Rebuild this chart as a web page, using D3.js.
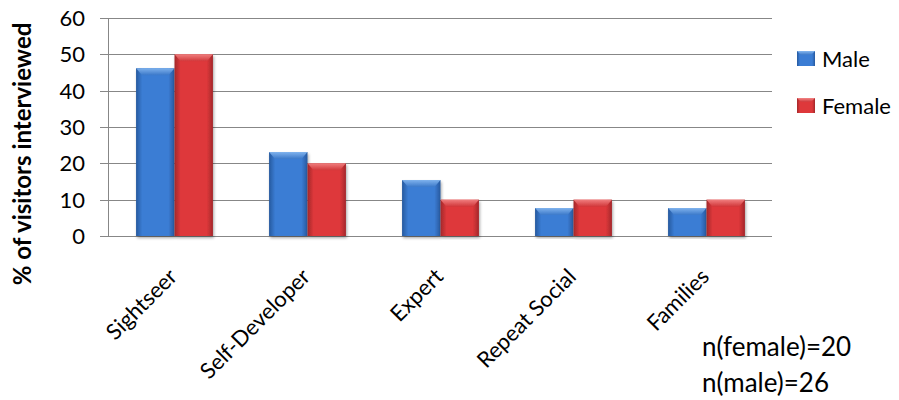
<!DOCTYPE html>
<html>
<head>
<meta charset="utf-8">
<script src="https://cdn.jsdelivr.net/npm/d3@7"></script>
<style>
  html, body { margin: 0; padding: 0; background: #fff; }
  svg { display: block; font-family: Lato, "Open Sans", sans-serif; }
</style>
</head>
<body>
<svg id="chart" width="899" height="400"></svg>
<script>
// Visitor types by gender (% of visitors interviewed)
const categories = ["Sightseer", "Self-Developer", "Expert", "Repeat Social", "Families"];
const seriesNames = ["Male", "Female"];
const maleValues = [46.2, 23.1, 15.4, 7.7, 7.7];
const femaleValues = [50, 20, 10, 10, 10];
const yTicks = [0, 10, 20, 30, 40, 50, 60];
const yTitle = "% of visitors interviewed";
const notes = ["n(female)=20", "n(male)=26"];

const seriesValues = { Male: maleValues, Female: femaleValues };

const svg = d3.select("#chart");
const plot = { left: 108, right: 773, top: 18, bottom: 236 };

const x0 = d3.scaleBand().domain(categories).range([plot.left, plot.right]).paddingInner(0).paddingOuter(0);
const x1 = d3.scaleBand().domain(seriesNames).range([0, x0.bandwidth()]).paddingInner(0).paddingOuter(0.73);
const y = d3.scaleLinear().domain([0, 60]).range([plot.bottom, plot.top]);

// Bar gradients: darker edges, lighter centre for a bevelled look
const defs = svg.append("defs");
const palettes = {
  Male:   { edge: "#27599e", mid: "#3b7dd4", top: "#86b8f0", topEdge: "#3b78c8" },
  Female: { edge: "#a3282a", mid: "#de383b", top: "#f38686", topEdge: "#cf3639" }
};
seriesNames.forEach(s => {
  const p = palettes[s];
  const g = defs.append("linearGradient").attr("id", "grad-" + s).attr("x1", 0).attr("x2", 1).attr("y1", 0).attr("y2", 0);
  g.append("stop").attr("offset", "0%").attr("stop-color", p.edge);
  g.append("stop").attr("offset", "16%").attr("stop-color", p.mid);
  g.append("stop").attr("offset", "84%").attr("stop-color", p.mid);
  g.append("stop").attr("offset", "100%").attr("stop-color", p.edge);
  const t = defs.append("linearGradient").attr("id", "top-" + s).attr("x1", 0).attr("x2", 0).attr("y1", 0).attr("y2", 1);
  t.append("stop").attr("offset", "0%").attr("stop-color", p.top);
  t.append("stop").attr("offset", "100%").attr("stop-color", p.topEdge);
});
const shadow = defs.append("filter").attr("id", "shadow").attr("x", "-20%").attr("y", "-5%").attr("width", "140%").attr("height", "115%");
shadow.append("feGaussianBlur").attr("in", "SourceAlpha").attr("stdDeviation", 1.5);
shadow.append("feOffset").attr("dx", 1).attr("dy", 2).attr("result", "off");
shadow.append("feComponentTransfer").append("feFuncA").attr("type", "linear").attr("slope", 0.35);
const merge = shadow.append("feMerge");
merge.append("feMergeNode");
merge.append("feMergeNode").attr("in", "SourceGraphic");

// Gridlines and tick marks
const gridColor = "#878787";
svg.append("g").selectAll("line").data(yTicks).join("line")
  .attr("x1", plot.left - 8).attr("x2", plot.right - 1)
  .attr("y1", d => Math.round(y(d)) + 0.5).attr("y2", d => Math.round(y(d)) + 0.5)
  .attr("stroke", gridColor).attr("stroke-width", 1);
svg.append("line")
  .attr("x1", plot.left + 0.5).attr("x2", plot.left + 0.5)
  .attr("y1", y(60)).attr("y2", y(0) + 0.5)
  .attr("stroke", gridColor).attr("stroke-width", 1);

// Y tick labels
svg.append("g").selectAll("text").data(yTicks).join("text")
  .attr("x", 85).attr("y", d => y(d))
  .attr("dy", "0.36em")
  .attr("text-anchor", "end")
  .attr("font-size", 22)
  .attr("fill", "#000")
  .text(d => d);

// Bars
const groups = svg.append("g").selectAll("g").data(categories).join("g")
  .attr("transform", d => `translate(${x0(d)},0)`);
const barData = (c, i) => seriesNames.map(s => ({ series: s, value: seriesValues[s][i] }));
const bars = groups.selectAll("g.bar").data((c, i) => barData(c, i)).join("g").attr("class", "bar")
  .attr("filter", "url(#shadow)");
bars.append("rect")
  .attr("x", d => x1(d.series))
  .attr("y", d => y(d.value))
  .attr("width", x1.bandwidth())
  .attr("height", d => y(0) - y(d.value))
  .attr("fill", d => `url(#grad-${d.series})`);
// Bevelled top edge of each bar
bars.append("path")
  .attr("d", d => {
    const bx = x1(d.series), bw = x1.bandwidth(), by = y(d.value), h = 7;
    return `M${bx},${by}L${bx + bw},${by}L${bx + bw - 6},${by + h}L${bx + 6},${by + h}Z`;
  })
  .attr("fill", d => `url(#top-${d.series})`)
  .attr("opacity", 0.9);

// Category labels, rotated
svg.append("g").selectAll("text").data(categories).join("text")
  .attr("transform", d => `translate(${x0(d) + x0.bandwidth() / 2 + 4},${plot.bottom + 42}) rotate(-45)`)
  .attr("text-anchor", "end")
  .attr("font-size", 22)
  .attr("fill", "#000")
  .text(d => d);

// Y axis title
svg.append("text")
  .attr("transform", `translate(31,154) rotate(-90)`)
  .attr("text-anchor", "middle")
  .attr("font-size", 24)
  .attr("font-weight", "bold")
  .attr("fill", "#000")
  .text(yTitle);

// Legend
const legend = svg.append("g").selectAll("g").data(seriesNames).join("g")
  .attr("transform", (d, i) => `translate(797,${51 + i * 47})`);
legend.append("rect")
  .attr("width", 18).attr("height", 15)
  .attr("fill", d => `url(#grad-${d})`);
legend.append("path")
  .attr("d", "M0,0L18,0L14,4L4,4Z")
  .attr("fill", d => `url(#top-${d})`);
legend.append("text")
  .attr("x", 25).attr("y", 16)
  .attr("font-size", 22)
  .attr("fill", "#000")
  .text(d => d);

// Sample sizes
svg.append("g").selectAll("text").data(notes).join("text")
  .attr("x", 702).attr("y", (d, i) => 356 + i * 36)
  .attr("font-size", 26)
  .attr("fill", "#000")
  .text(d => d);
</script>
</body>
</html>
